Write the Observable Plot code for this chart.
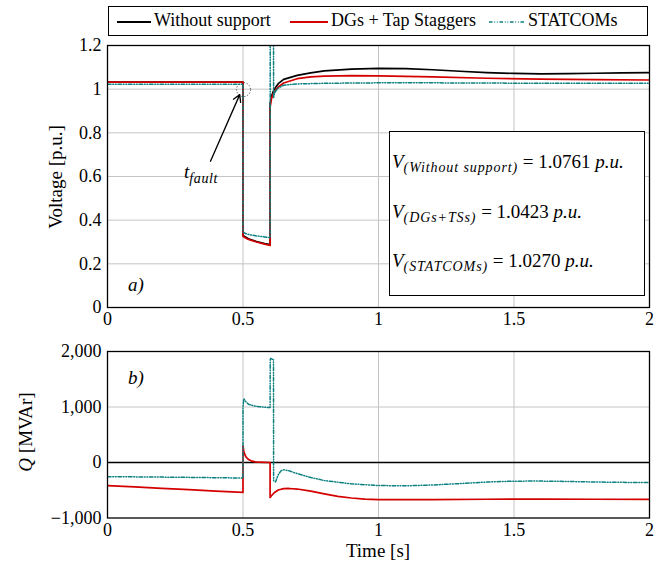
<!DOCTYPE html>
<html>
<head>
<meta charset="utf-8">
<script src="https://cdn.jsdelivr.net/npm/d3@7"></script>
<script src="https://cdn.jsdelivr.net/npm/@observablehq/plot@0.6"></script>
<style>
  body { margin: 0; background: #fff; }
  #root { position: relative; width: 669px; height: 570px; font-family: "Liberation Serif", "Times New Roman", serif; color: #000; overflow: hidden; }
  .abs { position: absolute; white-space: nowrap; }
  .c { transform: translate(-50%, -50%); }
  .it { font-style: italic; }
  #legend { position: absolute; left: 108px; top: 6px; width: 538px; height: 28px; border: 1px solid #000; font-size: 18px; }
  #legend .item { position: absolute; top: 3px; }
  #legend svg { position: absolute; top: 13px; }
  #vbox { position: absolute; left: 389px; top: 131px; width: 254px; height: 163px; border: 1.3px solid #000; background: #fff; font-size: 19px; }
  #vbox .ln { position: absolute; left: 2px; transform: translateY(-50%); }
  #vbox sub { font-size: 14px; letter-spacing: 0.9px; font-style: italic; vertical-align: -4px; }
  .plotbox { position: absolute; left: 0; }
</style>
</head>
<body>
<div id="root">
  <div id="legend">
    <svg width="34" height="4" style="left:8px"><line x1="0" x2="34" y1="2" y2="2" stroke="#000" stroke-width="1.8"/></svg>
    <span class="item" style="left:45px">Without support</span>
    <svg width="38" height="4" style="left:181px"><line x1="0" x2="38" y1="2" y2="2" stroke="#d40000" stroke-width="1.8"/></svg>
    <span class="item" style="left:222px">DGs + Tap Staggers</span>
    <svg width="35" height="4" style="left:380px"><line x1="0" x2="35" y1="2" y2="2" stroke="#0a8080" stroke-width="1.6" stroke-dasharray="3.5 1.8 0.8 1.8 0.8 1.8"/></svg>
    <span class="item" style="left:419px">STATCOMs</span>
  </div>
  <div id="top" class="plotbox" style="top:30px"></div>
  <div id="bottom" class="plotbox" style="top:335px"></div>

  <div id="vbox">
    <div class="ln" style="top:31px"><span class="it">V</span><sub>(Without support)</sub> = 1.0761 <span class="it">p.u.</span></div>
    <div class="ln" style="top:81px"><span class="it">V</span><sub>(DGs+TSs)</sub> = 1.0423 <span class="it">p.u.</span></div>
    <div class="ln" style="top:130px"><span class="it">V</span><sub>(STATCOMs)</sub> = 1.0270 <span class="it">p.u.</span></div>
  </div>

  <div class="abs c" style="left:201px;top:174px;font-size:19px"><span class="it">t</span><sub class="it" style="font-size:14px;letter-spacing:0.6px">fault</sub></div>
  <div class="abs c it" style="left:136px;top:285px;font-size:19px">a)</div>
  <div class="abs c it" style="left:136px;top:378px;font-size:19px">b)</div>
  <div class="abs c" style="left:56px;top:177px;font-size:19px;transform:translate(-50%,-50%) rotate(-90deg)">Voltage [p.u.]</div>
  <div class="abs c" style="left:26px;top:432px;font-size:19px;transform:translate(-50%,-50%) rotate(-90deg)"><span class="it">Q</span> [MVAr]</div>
  <div class="abs c" style="left:378px;top:551px;font-size:19px">Time [s]</div>
</div>

<script>
// ---- Data ----
const seriesNames = ["Without support", "DGs + Tap Staggers", "STATCOMs"];
const seriesColors = ["#000000", "#d40000", "#0a8080"];

const xTicks = [0, 0.5, 1, 1.5, 2];
const vTicks = [0, 0.2, 0.4, 0.6, 0.8, 1, 1.2];
const qTicks = [-1000, 0, 1000, 2000];

// Voltage, without support
const vNoTime = [0, 0.5, 0.5, 0.52, 0.55, 0.58, 0.6, 0.6, 0.605, 0.61, 0.62, 0.63, 0.65, 0.7, 0.75, 0.8, 0.9, 1.0, 1.1, 1.2, 1.3, 1.4, 1.5, 1.6, 1.7, 1.8, 1.9, 2.0];
const vNo     = [1.032, 1.032, 0.33, 0.315, 0.302, 0.293, 0.288, 0.934, 0.965, 0.985, 1.008, 1.025, 1.045, 1.063, 1.075, 1.084, 1.092, 1.095, 1.094, 1.089, 1.082, 1.076, 1.072, 1.07, 1.071, 1.073, 1.075, 1.076];
// Voltage, DGs + tap staggers
const vDgTime = [0, 0.5, 0.5, 0.52, 0.55, 0.58, 0.6, 0.6, 0.605, 0.61, 0.62, 0.63, 0.65, 0.7, 0.75, 0.8, 0.9, 1.0, 1.2, 1.4, 1.6, 1.8, 2.0];
const vDg     = [1.032, 1.032, 0.325, 0.312, 0.3, 0.29, 0.284, 0.917, 0.955, 0.975, 0.995, 1.01, 1.028, 1.048, 1.056, 1.06, 1.062, 1.061, 1.056, 1.05, 1.046, 1.044, 1.042];
// Voltage, STATCOMs
const vStTime = [0, 0.5, 0.5, 0.51, 0.53, 0.55, 0.58, 0.6, 0.6005, 0.6125, 0.613, 0.615, 0.62, 0.63, 0.65, 0.7, 0.8, 1.0, 1.2, 1.4, 1.6, 1.8, 2.0];
const vSt     = [1.022, 1.022, 0.345, 0.338, 0.332, 0.328, 0.323, 0.32, 1.35, 1.35, 0.96, 0.975, 0.99, 1.005, 1.018, 1.024, 1.027, 1.029, 1.029, 1.028, 1.027, 1.027, 1.027];

// Reactive power, without support
const qNoTime = [0, 2];
const qNo     = [0, 0];
// Reactive power, DGs + tap staggers
const qDgTime = [0, 0.1, 0.2, 0.3, 0.4, 0.5, 0.5, 0.503, 0.507, 0.512, 0.52, 0.53, 0.545, 0.56, 0.58, 0.6, 0.6, 0.605, 0.615, 0.63, 0.65, 0.67, 0.7, 0.75, 0.8, 0.85, 0.9, 0.95, 1.0, 1.2, 1.4, 1.6, 1.8, 2.0];
const qDg     = [-415, -440, -465, -490, -515, -540, 300, 200, 140, 95, 55, 30, 12, 5, 2, 0, -630, -600, -545, -495, -470, -468, -478, -515, -565, -610, -640, -660, -670, -670, -662, -660, -662, -665];
// Reactive power, STATCOMs
const qStTime = [0, 0.25, 0.5, 0.5, 0.503, 0.51, 0.52, 0.54, 0.56, 0.58, 0.6, 0.6005, 0.6125, 0.613, 0.62, 0.63, 0.64, 0.65, 0.67, 0.7, 0.75, 0.8, 0.9, 1.0, 1.1, 1.2, 1.3, 1.4, 1.5, 1.6, 1.7, 1.8, 1.9, 2.0];
const qSt     = [-255, -265, -280, 1000, 1150, 1100, 1050, 1020, 1005, 995, 990, 1880, 1850, -330, -350, -220, -150, -130, -150, -200, -270, -325, -385, -415, -420, -405, -380, -352, -336, -335, -342, -352, -358, -360];

// Annotation: fault instant marker and arrow from the t_fault label
const faultMark = [{t: 0.502, v: 0.998}];
const faultArrow = [{t1: 0.38, v1: 0.67, t2: 0.488, v2: 0.975}];

// ---- Build ----
function rows(times, vals, name) { return times.map((t, i) => ({t, v: vals[i], name})); }
const vRows = [rows(vNoTime, vNo, seriesNames[0]), rows(vDgTime, vDg, seriesNames[1]), rows(vStTime, vSt, seriesNames[2])];
const qRows = [rows(qNoTime, qNo, seriesNames[0]), rows(qDgTime, qDg, seriesNames[1]), rows(qStTime, qSt, seriesNames[2])];

const dash = "3.5 1.8 0.8 1.8 0.8 1.8";
function seriesMarks(data) {
  return data.map((d, i) => Plot.line(d, {
    x: "t", y: "v", stroke: seriesColors[i],
    strokeWidth: i === 2 ? 1.5 : 1.7,
    strokeDasharray: i === 2 ? dash : null,
    clip: true
  }));
}

const common = {
  width: 669,
  marginLeft: 107, marginRight: 20,
  style: {fontFamily: "'Liberation Serif', 'Times New Roman', serif", fontSize: "18px", background: "transparent", color: "#000", overflow: "visible"},
  x: {domain: [0, 2]}
};

const topPlot = Plot.plot({
  ...common,
  height: 310, marginTop: 15, marginBottom: 33,
  y: {domain: [0, 1.2]},
  marks: [
    Plot.gridX(xTicks.slice(1, -1), {stroke: "#c4c4c4", strokeOpacity: 1, strokeWidth: 1}),
    Plot.gridY(vTicks.slice(1, -1), {stroke: "#c4c4c4", strokeOpacity: 1, strokeWidth: 1}),
    Plot.axisX(xTicks, {tickSize: 0, tickPadding: 5, tickFormat: d3.format("~g"), label: null}),
    Plot.axisY(vTicks, {tickSize: 0, tickPadding: 6, tickFormat: d3.format("~g"), label: null}),
    ...seriesMarks(vRows),
    Plot.dot(faultMark, {x: "t", y: "v", r: 7, stroke: "#444", strokeWidth: 1, strokeDasharray: "1.2 1.8", fill: "none"}),
    Plot.arrow(faultArrow, {x1: "t1", y1: "v1", x2: "t2", y2: "v2", stroke: "#000", strokeWidth: 1.3, headLength: 9}),
    Plot.frame({stroke: "#000", strokeWidth: 1.3})
  ]
});

const bottomPlot = Plot.plot({
  ...common,
  height: 235, marginTop: 16, marginBottom: 52.5,
  y: {domain: [-1000, 2000]},
  marks: [
    Plot.gridX(xTicks.slice(1, -1), {stroke: "#c4c4c4", strokeOpacity: 1, strokeWidth: 1}),
    Plot.gridY(qTicks.slice(1, -1), {stroke: "#c4c4c4", strokeOpacity: 1, strokeWidth: 1}),
    Plot.axisX(xTicks, {tickSize: 0, tickPadding: 5, tickFormat: d3.format("~g"), label: null}),
    Plot.axisY(qTicks, {tickSize: 0, tickPadding: 6, tickFormat: d3.format(","), label: null}),
    ...seriesMarks(qRows),
    Plot.frame({stroke: "#000", strokeWidth: 1.3})
  ]
});

document.getElementById("top").appendChild(topPlot);
document.getElementById("bottom").appendChild(bottomPlot);
</script>
</body>
</html>
